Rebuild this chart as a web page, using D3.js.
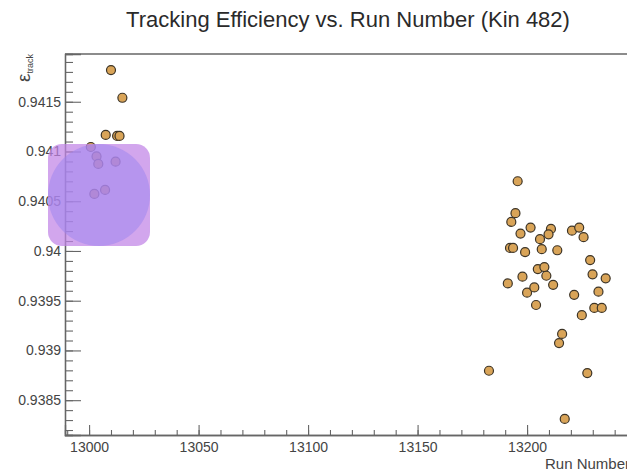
<!DOCTYPE html>
<html lang="en">
<head>
    <meta charset="UTF-8">
    <title>Tracking Efficiency vs. Run Number</title>
    <script src="https://d3js.org/d3.v7.min.js"></script>
    <style>
        html, body { margin: 0; padding: 0; overflow: hidden; background: #fff; }
        text { font-family: "Liberation Sans", Arial, sans-serif; }
    </style>
</head>
<body>
    <div id="chart"></div>

    <script>
        // Data
        const runNumbers = [
            13010.0, 13015.2, 13007.6, 13012.8, 13013.9, 13000.8, 13003.4, 13004.2, 13012.1, 13002.4, 13007.3,
            13195.7, 13194.7, 13192.8, 13197.0, 13201.6, 13210.9, 13209.8, 13205.9, 13220.5, 13223.8, 13225.8,
            13192.2, 13193.6, 13199.1, 13206.7, 13213.8, 13228.8, 13204.9, 13207.9, 13208.8, 13197.9, 13191.2,
            13211.9, 13229.9, 13235.9, 13200.0, 13203.3, 13204.1, 13221.5, 13232.6, 13230.7, 13234.1, 13225.0,
            13216.0, 13214.6, 13182.6, 13227.5, 13217.2
        ];
        const efficiency = [
            0.941818, 0.941540, 0.941166, 0.941156, 0.941156, 0.941045, 0.940950, 0.940875, 0.940898, 0.940573, 0.940614,
            0.940701, 0.940380, 0.940292, 0.940175, 0.940235, 0.940222, 0.940167, 0.940119, 0.940204, 0.940235, 0.940139,
            0.940031, 0.940031, 0.939988, 0.940018, 0.940007, 0.939908, 0.939818, 0.939838, 0.939751, 0.939742, 0.939674,
            0.939660, 0.939765, 0.939725, 0.939581, 0.939633, 0.939457, 0.939559, 0.939591, 0.939427, 0.939427, 0.939355,
            0.939166, 0.939074, 0.938796, 0.938773, 0.938312
        ];
        const xTickValues = [13000, 13050, 13100, 13150, 13200];
        const xTickLabels = ["13000", "13050", "13100", "13150", "13200"];
        const yTickValues = [0.9385, 0.939, 0.9395, 0.94, 0.9405, 0.941, 0.9415];
        const yTickLabels = ["0.9385", "0.939", "0.9395", "0.94", "0.9405", "0.941", "0.9415"];

        const points = runNumbers.map((r, i) => ({ run: r, eff: efficiency[i] }));

        const width = 640, height = 472;
        const margin = { left: 65, right: 10, top: 54, bottom: 37 };

        const svg = d3.select("#chart")
                        .append("svg")
                        .attr("width", width)
                        .attr("height", height);

        const x = d3.scaleLinear()
                    .domain([12989, 13247])
                    .range([margin.left, width - margin.right]);
        const y = d3.scaleLinear()
                    .domain([0.93815, 0.94198])
                    .range([height - margin.bottom, margin.top]);

        // Title
        svg.append("text")
            .attr("x", 348)
            .attr("y", 27)
            .attr("text-anchor", "middle")
            .style("font-size", "22px")
            .attr("fill", "#2a2a2a")
            .text("Tracking Efficiency vs. Run Number (Kin 482)");

        // Frame top line
        svg.append("line")
            .attr("x1", margin.left).attr("x2", width)
            .attr("y1", margin.top).attr("y2", margin.top)
            .attr("stroke", "#666").attr("stroke-width", 1.3);

        // Minor ticks
        const xMinor = d3.range(12990, 13247, 10);
        const yMinor = d3.range(9382, 9420).map(v => v / 10000);

        svg.append("g")
            .attr("class", "x-minor")
            .attr("transform", `translate(0,${height - margin.bottom})`)
            .call(d3.axisTop(x).tickValues(xMinor).tickSize(5).tickFormat(""));

        svg.append("g")
            .attr("class", "y-minor")
            .attr("transform", `translate(${margin.left},0)`)
            .call(d3.axisRight(y).tickValues(yMinor).tickSize(8).tickFormat(""));

        // Major ticks with labels
        const xAxis = svg.append("g")
            .attr("transform", `translate(0,${height - margin.bottom})`)
            .call(d3.axisTop(x).tickValues(xTickValues).tickSize(10)
                    .tickFormat((d, i) => xTickLabels[i]));
        xAxis.selectAll("text")
            .attr("y", 17)
            .attr("dy", 0)
            .style("font-size", "14px");

        const yAxis = svg.append("g")
            .attr("transform", `translate(${margin.left},0)`)
            .call(d3.axisRight(y).tickValues(yTickValues).tickSize(16)
                    .tickFormat((d, i) => yTickLabels[i]));
        yAxis.selectAll("text")
            .attr("x", -4)
            .attr("text-anchor", "end")
            .style("font-size", "14px");

        svg.selectAll(".domain").attr("stroke", "#666").attr("stroke-width", 1.3);
        svg.selectAll(".tick line").attr("stroke", "#666").attr("stroke-width", 1.1);
        svg.selectAll(".tick text").attr("fill", "#444");

        // Axis titles
        svg.append("text")
            .attr("x", width - margin.right)
            .attr("y", 469)
            .attr("text-anchor", "end")
            .style("font-size", "15px")
            .attr("fill", "#444")
            .text("Run Number");

        const yTitle = svg.append("text")
            .attr("transform", `translate(30,${margin.top}) rotate(-90)`)
            .attr("text-anchor", "end")
            .attr("fill", "#444")
            .style("font-size", "19px");
        yTitle.append("tspan").text("ε");
        yTitle.append("tspan").attr("dy", 3).style("font-size", "9px").text("track");

        // Points
        svg.selectAll("circle.pt")
            .data(points)
            .enter()
            .append("circle")
            .attr("class", "pt")
            .attr("cx", d => x(d.run))
            .attr("cy", d => y(d.eff))
            .attr("r", 4.5)
            .attr("fill", "#d9a458")
            .attr("stroke", "#3d3426")
            .attr("stroke-width", 1.2);

        // Purple overlay sitting over the top-left of the plot
        const overlay = svg.append("g").attr("class", "overlay");
        overlay.append("rect")
            .attr("x", 48).attr("y", 144)
            .attr("width", 102).attr("height", 102)
            .attr("rx", 14)
            .attr("fill", "#c184e6")
            .attr("opacity", 0.72);
        overlay.append("circle")
            .attr("cx", 99).attr("cy", 195)
            .attr("r", 51)
            .attr("fill", "#9a84f0")
            .attr("opacity", 0.5);
    </script>
</body>
</html>
